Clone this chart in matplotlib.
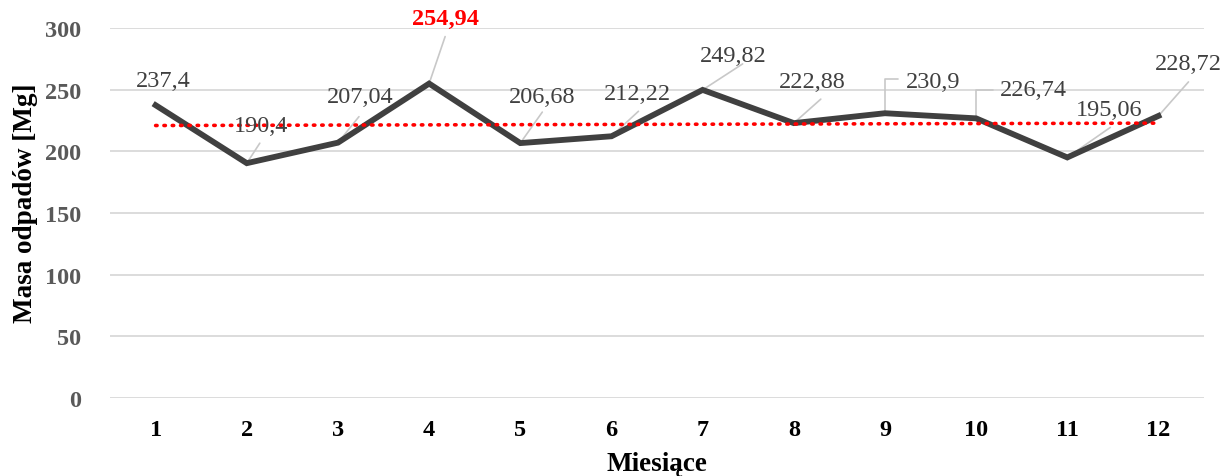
import matplotlib
matplotlib.use('Agg')
import matplotlib.pyplot as plt
import numpy as np

# data
months = [1, 2, 3, 4, 5, 6, 7, 8, 9, 10, 11, 12]
mass = [237.4, 190.4, 207.04, 254.94, 206.68, 212.22, 249.82, 222.88, 230.9, 226.74, 195.06, 228.72]
labels = ["237,4", "190,4", "207,04", "254,94", "206,68", "212,22",
          "249,82", "222,88", "230,9", "226,74", "195,06", "228,72"]
y_ticks = [0, 50, 100, 150, 200, 250, 300]

# label placement (pixel offsets from point) and leader line ends
label_off = [(8, 25), (14, 38), (22, 46), (16, 65), (22, 47), (26, 43),
             (31, 34), (18, 42), (48, 32), (57, 29), (42, 48), (30, 52)]
leader_off = [None, (13, 20), (21, 26), (16, 47), (22, 31), (27, 25),
              (40, 26), (27, 24), (13, 34), (17, 28), (43, 30), (30, 34)]
elbow = [False] * 8 + [True, True] + [False, False]

plt.rcParams['font.family'] = ['Liberation Serif', 'DejaVu Serif']

fig = plt.figure(figsize=(12.24, 4.77), dpi=100)
ax = fig.add_axes([0.0899, 0.1635, 0.8938, 0.7757])

x = np.arange(len(months))
ax.plot(x, mass, color='#404040', lw=4.2, solid_joinstyle='miter', zorder=3)

# linear trend
k, b = np.polyfit(x, mass, 1)
ax.plot(x, k * x + b, color='#ff0000', lw=2.6, linestyle=(0, (0.4, 1.9)),
        dash_capstyle='round', zorder=4)

ax.set_xlim(-0.5, len(months) - 0.5)
ax.set_ylim(0, 300)
ax.set_yticks(y_ticks)
ax.set_xticks(x)
ax.set_xticklabels([str(m) for m in months])
ax.grid(axis='y', color='#d9d9d9', lw=1.3, zorder=0)
ax.set_axisbelow(True)
for s in ax.spines.values():
    s.set_visible(False)
ax.tick_params(length=0)
ax.tick_params(axis='y', labelsize=17.5, labelcolor='#595959', pad=21)
ax.tick_params(axis='x', labelsize=17.5, labelcolor='black', pad=15)
for t in ax.get_xticklabels() + ax.get_yticklabels():
    t.set_fontweight('bold')

ax.set_ylabel('Masa odpadów [Mg]', fontsize=19.5, fontweight='bold')
ax.yaxis.set_label_coords(-0.0658, 0.53)
ax.set_xlabel('Miesiące', fontsize=19.5, fontweight='bold', labelpad=8)

top = int(np.argmax(mass))
for i, (xi, yi) in enumerate(zip(x, mass)):
    hot = i == top
    ax.annotate(labels[i], (xi, yi), xytext=label_off[i], textcoords='offset pixels',
                ha='center', va='center', fontsize=17.5,
                color='#ff0000' if hot else '#404040',
                fontweight='bold' if hot else 'normal', zorder=6)
    if leader_off[i] is not None:
        cs = 'angle,angleA=0,angleB=90,rad=0' if elbow[i] else 'arc3'
        ax.annotate('', (xi, yi), xytext=leader_off[i], textcoords='offset pixels',
                    arrowprops=dict(arrowstyle='-', color='#c8c8c8', lw=1.2,
                                    shrinkA=0, shrinkB=1, connectionstyle=cs),
                    zorder=2)

fig.savefig('out.png', dpi=100, facecolor='white')
